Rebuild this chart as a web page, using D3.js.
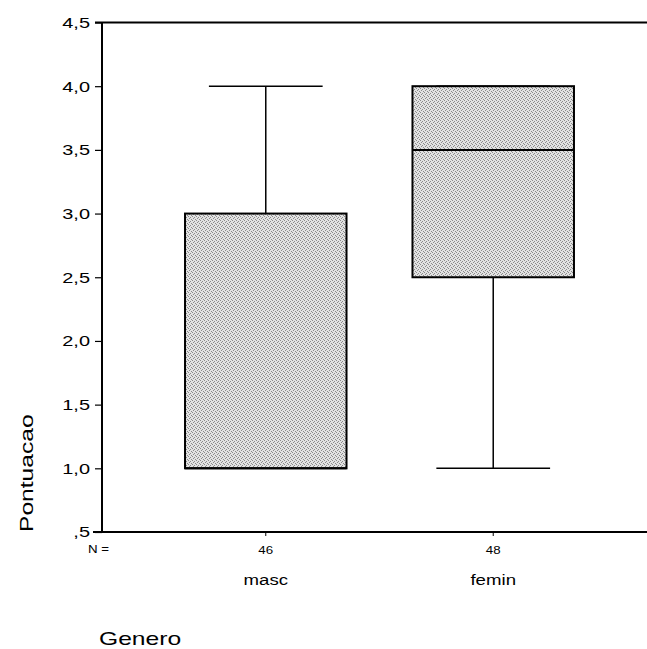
<!DOCTYPE html>
<html>
<head>
<meta charset="utf-8">
<script src="https://cdn.jsdelivr.net/npm/d3@7"></script>
<style>
  body { margin: 0; background: #fff; }
  svg { display: block; }
</style>
</head>
<body>
<div id="chart"></div>
<script>
// boxplot summary per category (Pontuacao by Genero)
var categories = ["masc", "femin"];
var counts = [46, 48];
var whiskerLow = [1.0, 1.0];
var q1 = [1.0, 2.5];
var median = [1.0, 3.5];
var q3 = [3.0, 4.0];
var whiskerHigh = [4.0, 4.0];
var yTicks = [0.5, 1.0, 1.5, 2.0, 2.5, 3.0, 3.5, 4.0, 4.5];

var width = 647, height = 649;
var plotLeft = 102, plotRight = 657, plotTop = 22.5, plotBottom = 532;
var font = "Liberation Sans, Arial, sans-serif";
var stretch = 1.33; // the scanned text is wider than plain Arial

var svg = d3.select("#chart").append("svg")
    .attr("width", width)
    .attr("height", height);

// stipple pattern for the boxes
var defs = svg.append("defs");
var pat = defs.append("pattern")
    .attr("id", "stipple")
    .attr("patternUnits", "userSpaceOnUse")
    .attr("width", 4)
    .attr("height", 4);
pat.append("rect").attr("width", 4).attr("height", 4).attr("fill", "#e2e2e2");
[[0, 0], [2, 1], [1, 2], [3, 3]].forEach(p => {
    pat.append("rect").attr("x", p[0]).attr("y", p[1])
        .attr("width", 1).attr("height", 1).attr("fill", "#8a8a8a");
});

var y = d3.scaleLinear().domain([0.5, 4.5]).range([plotBottom, plotTop]);
var x = d3.scalePoint().domain(categories).range([plotLeft, plotRight]).padding(0.72);
var boxW = x.step() * 0.71;
var capW = x.step() * 0.5;

var fmt = d => d3.format(".1f")(d).replace(".", ",").replace(/^0/, "");

// y axis
var yAxis = svg.append("g")
    .attr("transform", "translate(" + plotLeft + ",0)")
    .call(d3.axisLeft(y).tickValues(yTicks).tickFormat(fmt).tickSize(7).tickPadding(5));
yAxis.select(".domain").remove();
yAxis.selectAll("line").attr("stroke", "#000").attr("stroke-width", 1.2);
yAxis.selectAll("text")
    .attr("font-family", font)
    .attr("font-size", 15)
    .attr("fill", "#000");

// frame lines
svg.append("line").attr("x1", plotLeft).attr("x2", plotLeft).attr("y1", plotTop).attr("y2", plotBottom)
    .attr("stroke", "#000").attr("stroke-width", 2);
svg.append("line").attr("x1", plotLeft - 7).attr("x2", width).attr("y1", plotTop).attr("y2", plotTop)
    .attr("stroke", "#000").attr("stroke-width", 2);
svg.append("line").attr("x1", plotLeft - 9).attr("x2", width).attr("y1", plotBottom).attr("y2", plotBottom)
    .attr("stroke", "#000").attr("stroke-width", 2);

// boxes
var g = svg.append("g");
categories.forEach((c, i) => {
    var cx = x(c);
    // whiskers
    g.append("line").attr("x1", cx).attr("x2", cx)
        .attr("y1", y(whiskerHigh[i])).attr("y2", y(q3[i]))
        .attr("stroke", "#000").attr("stroke-width", 1.5);
    g.append("line").attr("x1", cx).attr("x2", cx)
        .attr("y1", y(q1[i])).attr("y2", y(whiskerLow[i]))
        .attr("stroke", "#000").attr("stroke-width", 1.5);
    g.append("line").attr("x1", cx - capW / 2).attr("x2", cx + capW / 2)
        .attr("y1", y(whiskerHigh[i])).attr("y2", y(whiskerHigh[i]))
        .attr("stroke", "#000").attr("stroke-width", 1.5);
    g.append("line").attr("x1", cx - capW / 2).attr("x2", cx + capW / 2)
        .attr("y1", y(whiskerLow[i])).attr("y2", y(whiskerLow[i]))
        .attr("stroke", "#000").attr("stroke-width", 1.5);
    // box
    g.append("rect")
        .attr("x", cx - boxW / 2)
        .attr("y", y(q3[i]))
        .attr("width", boxW)
        .attr("height", y(q1[i]) - y(q3[i]))
        .attr("fill", "url(#stipple)")
        .attr("stroke", "#000")
        .attr("stroke-width", 2);
    g.append("line").attr("x1", cx - boxW / 2).attr("x2", cx + boxW / 2)
        .attr("y1", y(median[i])).attr("y2", y(median[i]))
        .attr("stroke", "#000").attr("stroke-width", 2);
    // category tick, N and label
    g.append("line").attr("x1", cx).attr("x2", cx).attr("y1", plotBottom).attr("y2", plotBottom + 4)
        .attr("stroke", "#000").attr("stroke-width", 1);
    g.append("text").attr("x", cx).attr("y", plotBottom + 22)
        .attr("text-anchor", "middle")
        .attr("font-family", font)
        .attr("font-size", 10)
        .text(counts[i]);
    g.append("text").attr("x", cx).attr("y", plotBottom + 53)
        .attr("text-anchor", "middle")
        .attr("font-family", font)
        .attr("font-size", 14)
        .text(c);
});

svg.append("text").attr("x", 88).attr("y", plotBottom + 21)
    .attr("font-family", font)
    .attr("font-size", 10)
    .text("N =");

// axis titles
svg.append("text")
    .attr("transform", "translate(33," + plotBottom + ") rotate(-90)")
    .attr("font-family", font)
    .attr("font-size", 18.5)
    .text("Pontuacao");

svg.append("text").attr("x", 99).attr("y", 645)
    .attr("font-family", font)
    .attr("font-size", 18.5)
    .text("Genero");

// widen all texts to match the scan
svg.selectAll("text").each(function() {
    var len = this.getComputedTextLength();
    d3.select(this)
        .attr("textLength", len * stretch)
        .attr("lengthAdjust", "spacingAndGlyphs");
});
</script>
</body>
</html>
